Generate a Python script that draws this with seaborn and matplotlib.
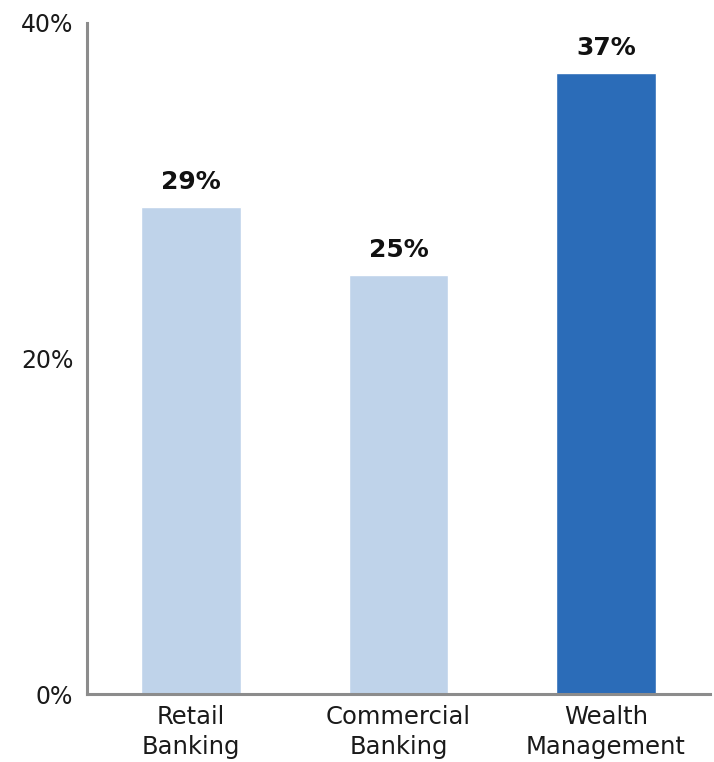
import matplotlib
matplotlib.use("Agg")
import matplotlib.pyplot as plt
import seaborn as sns
import pandas as pd

# Share by business segment (%)
segments = ["Retail\nBanking", "Commercial\nBanking", "Wealth\nManagement"]
shares = [29, 25, 37]
bar_colors = ["#bfd3ea", "#bfd3ea", "#2b6cb8"]
y_ticks = [0, 20, 40]

df = pd.DataFrame({"segment": segments, "share": shares})

sns.set_theme(style="white")
plt.rcParams["font.family"] = ["DejaVu Sans"]

fig = plt.figure(figsize=(7.14, 7.62), dpi=100)
ax = fig.add_axes([0.122, 0.089, 0.872, 0.881])

sns.barplot(data=df, x="segment", y="share", hue="segment", palette=bar_colors,
            width=0.48, saturation=1, legend=False, ax=ax)

ax.set_ylim(0, 40)
ax.set_xlim(-0.5, 2.5)
ax.set_yticks(y_ticks)
ax.set_yticklabels([f"{v}%" for v in y_ticks])
ax.set_xlabel("")
ax.set_ylabel("")

for side in ["top", "right"]:
    ax.spines[side].set_visible(False)
for side in ["left", "bottom"]:
    ax.spines[side].set_color("#8c8c8c")
    ax.spines[side].set_linewidth(2.2)

ax.tick_params(axis="both", length=0, colors="#1a1a1a")
ax.tick_params(axis="y", pad=10, labelsize=17)
ax.tick_params(axis="x", pad=8, labelsize=17.5)
for lbl in ax.get_xticklabels():
    lbl.set_linespacing(1.3)

for i, v in enumerate(shares):
    ax.annotate(f"{v}%", xy=(i, v), xytext=(0, 13), textcoords="offset points",
                ha="center", va="baseline", fontsize=18, fontweight="bold",
                color="#111111")

fig.savefig("out.png", dpi=100)
